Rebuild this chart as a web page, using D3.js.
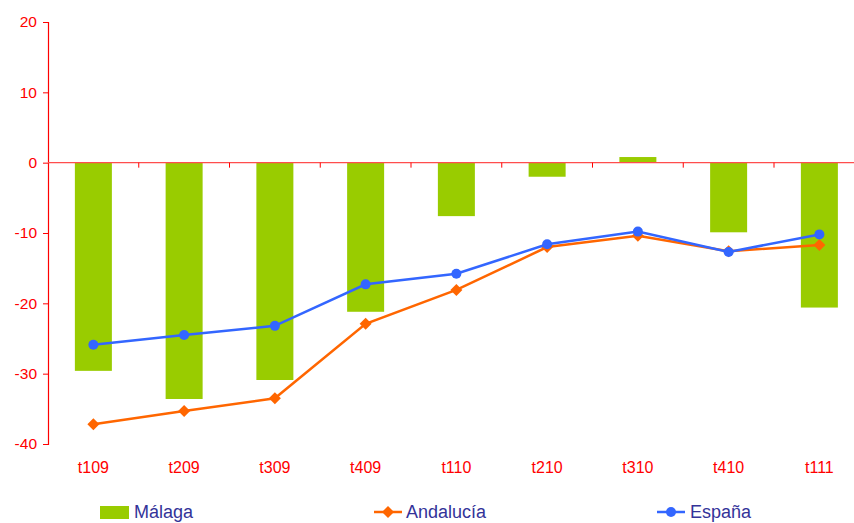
<!DOCTYPE html>
<html>
<head>
<meta charset="utf-8">
<script src="https://cdn.jsdelivr.net/npm/d3@7"></script>
<style>
  html, body { margin: 0; padding: 0; background: #fff; }
  svg { display: block; font-family: "Liberation Sans", Arial, sans-serif; }
</style>
</head>
<body>
<svg id="chart" width="854" height="523"></svg>
<script>
// Quarterly series (t = trimestre)
const categories = ["t109", "t209", "t309", "t409", "t110", "t210", "t310", "t410", "t111"];
const malaga    = [-29.6, -33.6, -30.9, -21.2, -7.6, -2.0, 0.8, -9.9, -20.6];
const andalucia = [-37.2, -35.3, -33.5, -22.9, -18.1, -12.0, -10.4, -12.6, -11.7];
const espana    = [-25.9, -24.5, -23.2, -17.3, -15.8, -11.6, -9.8, -12.7, -10.2];
const yTicks    = [20, 10, 0, -10, -20, -30, -40];

(function () {
const svg = d3.select("#chart");
const plotLeft = 48, plotTop = 22, plotBottom = 444;
const bandW = 90.75;

const x = d3.scaleBand()
  .domain(categories)
  .range([plotLeft, plotLeft + bandW * categories.length])
  .paddingInner(0).paddingOuter(0);

const y = d3.scaleLinear().domain([-40, 20]).range([plotBottom, plotTop]);

const red = "#ff0000";

// Málaga bars
svg.append("g").selectAll("rect")
  .data(categories.map((c, i) => ({ c, v: malaga[i] })))
  .join("rect")
  .attr("x", d => x(d.c) + x.bandwidth() / 2 - 18.5)
  .attr("width", 37)
  .attr("y", d => y(Math.max(0, d.v)))
  .attr("height", d => Math.abs(y(d.v) - y(0)))
  .attr("fill", "#99cc00");

// Y axis (plain hyphen for negatives)
const yAxis = d3.axisLeft(y).tickValues(yTicks).tickSize(5).tickPadding(6).tickFormat(d => String(d));
const gy = svg.append("g").attr("transform", `translate(${plotLeft},0)`).call(yAxis);
gy.select(".domain").attr("stroke", red).attr("stroke-width", 1.2);
gy.selectAll(".tick line").attr("stroke", red);
gy.selectAll(".tick text").attr("fill", red).attr("font-size", 15.5).attr("font-family", "Liberation Sans, Arial, sans-serif");

// Zero line with category separators
svg.append("line")
  .attr("x1", plotLeft).attr("x2", 854)
  .attr("y1", y(0)).attr("y2", y(0))
  .attr("stroke", "#ff4d4d").attr("stroke-width", 1.3);

svg.append("g").selectAll("line")
  .data(categories.slice(1))
  .join("line")
  .attr("x1", d => x(d)).attr("x2", d => x(d))
  .attr("y1", y(0)).attr("y2", y(0) + 5)
  .attr("stroke", red);

// Category labels
svg.append("g").selectAll("text")
  .data(categories)
  .join("text")
  .attr("x", d => x(d) + x.bandwidth() / 2)
  .attr("y", 473)
  .attr("text-anchor", "middle")
  .attr("fill", red)
  .attr("font-size", 16)
  .text(d => d);

const cx = d => x(d) + x.bandwidth() / 2;

const line = d3.line().x(d => cx(d.c)).y(d => y(d.v));
const andData = categories.map((c, i) => ({ c, v: andalucia[i] }));
const espData = categories.map((c, i) => ({ c, v: espana[i] }));

// Andalucía line with diamond markers
svg.append("path").datum(andData)
  .attr("d", line).attr("fill", "none")
  .attr("stroke", "#ff6600").attr("stroke-width", 2.5);

const diamond = d3.symbol().type(d3.symbolSquare).size(72);
svg.append("g").selectAll("path")
  .data(andData)
  .join("path")
  .attr("transform", d => `translate(${cx(d.c)},${y(d.v)}) rotate(45)`)
  .attr("d", diamond)
  .attr("fill", "#ff6600");

// España line with round markers
svg.append("path").datum(espData)
  .attr("d", line).attr("fill", "none")
  .attr("stroke", "#3366ff").attr("stroke-width", 2.5);

svg.append("g").selectAll("circle")
  .data(espData)
  .join("circle")
  .attr("cx", d => cx(d.c)).attr("cy", d => y(d.v))
  .attr("r", 5)
  .attr("fill", "#3366ff");

// Legend
const legY = 512;
const legColor = "#333399";
const lg = svg.append("g");
lg.append("rect").attr("x", 100).attr("y", 506).attr("width", 29).attr("height", 13).attr("fill", "#99cc00");
lg.append("text").attr("x", 134).attr("y", legY + 6).attr("fill", legColor).attr("font-size", 18).text("Málaga");

lg.append("line").attr("x1", 374).attr("x2", 402).attr("y1", legY).attr("y2", legY)
  .attr("stroke", "#ff6600").attr("stroke-width", 2.5);
lg.append("path").attr("transform", `translate(388,${legY}) rotate(45)`).attr("d", diamond).attr("fill", "#ff6600");
lg.append("text").attr("x", 406).attr("y", legY + 6).attr("fill", legColor).attr("font-size", 18).text("Andalucía");

lg.append("line").attr("x1", 657).attr("x2", 685).attr("y1", legY).attr("y2", legY)
  .attr("stroke", "#3366ff").attr("stroke-width", 2.5);
lg.append("circle").attr("cx", 671).attr("cy", legY).attr("r", 5).attr("fill", "#3366ff");
lg.append("text").attr("x", 690).attr("y", legY + 6).attr("fill", legColor).attr("font-size", 18).text("España");
})();
</script>
</body>
</html>
